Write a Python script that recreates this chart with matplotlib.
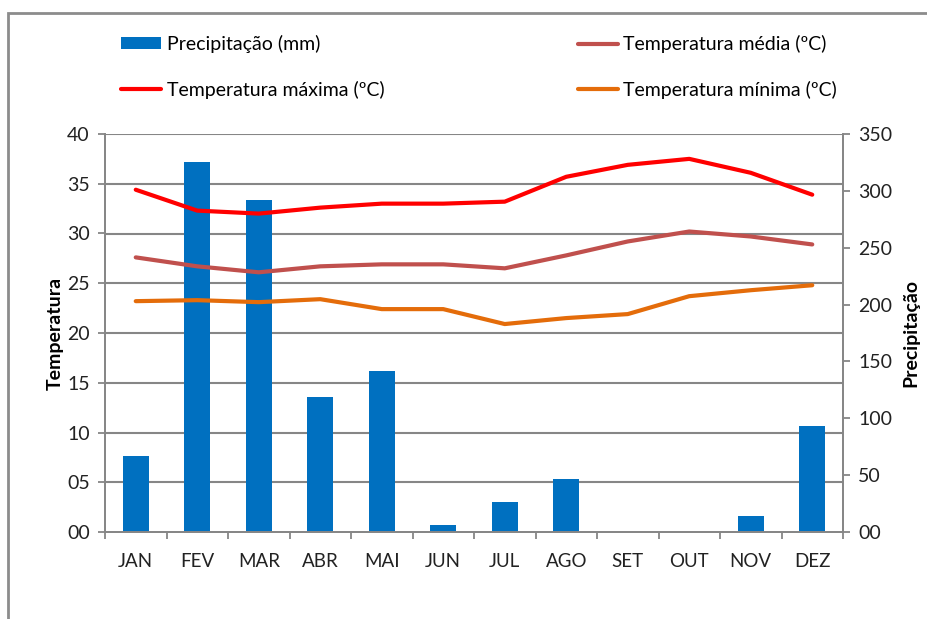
import numpy as np
import matplotlib
matplotlib.use("Agg")
import matplotlib.pyplot as plt
from matplotlib.patches import Rectangle
from matplotlib.ticker import FuncFormatter

plt.rcParams['font.family'] = ['Lato', 'DejaVu Sans']

# data
meses = ['JAN', 'FEV', 'MAR', 'ABR', 'MAI', 'JUN', 'JUL', 'AGO', 'SET', 'OUT', 'NOV', 'DEZ']
precip = [67, 325, 292, 119, 142, 6, 26, 47, 0, 0, 14, 93]
temp_max = [34.4, 32.3, 32.0, 32.6, 33.0, 33.0, 33.2, 35.7, 36.9, 37.5, 36.1, 33.9]
temp_med = [27.6, 26.7, 26.1, 26.7, 26.9, 26.9, 26.5, 27.8, 29.2, 30.2, 29.7, 28.9]
temp_min = [23.2, 23.3, 23.1, 23.4, 22.4, 22.4, 20.9, 21.5, 21.9, 23.7, 24.3, 24.8]

c_bar = '#0070c0'
c_max = '#ff0000'
c_med = '#c0504d'
c_min = '#e46c0a'
grid_c = '#868686'
txt_c = '#222222'

fig = plt.figure(figsize=(9.27, 6.19), dpi=100)
# outer chart frame (only top and left edges visible)
fig.patches.append(Rectangle((8/927, -0.1), 1.0, 1 - 13/619 + 0.1, transform=fig.transFigure,
                             fill=False, edgecolor='#8c8c8c', linewidth=2, zorder=0))

ax = fig.add_axes([105/927, 1 - 532/619, 738/927, 398/619])
ax2 = ax.twinx()
x = np.arange(len(meses))

# bars on the right axis, lines on the left axis
ax2.bar(x, precip, width=0.42, color=c_bar, zorder=2, label='Precipitação (mm)')
ax.set_zorder(ax2.get_zorder() + 1)
ax.patch.set_visible(False)
l1, = ax.plot(x, temp_max, color=c_max, lw=3, solid_capstyle='round', label='Temperatura máxima (ºC)')
l2, = ax.plot(x, temp_med, color=c_med, lw=3, solid_capstyle='round', label='Temperatura média (ºC)')
l3, = ax.plot(x, temp_min, color=c_min, lw=3, solid_capstyle='round', label='Temperatura mínima (ºC)')

ax.set_xlim(-0.5, 11.5)
ax.set_ylim(0, 40)
ax2.set_ylim(0, 350)
ax.set_yticks(np.arange(0, 41, 5))
ax2.set_yticks(np.arange(0, 351, 50))
ax.yaxis.set_major_formatter(FuncFormatter(lambda v, p: '%02d' % v))
ax2.yaxis.set_major_formatter(FuncFormatter(lambda v, p: '%02d' % v))
ax.set_xticks(x)
ax.set_xticklabels(meses)
ax.set_xticks(np.arange(-0.5, 12, 1), minor=True)

for y in np.arange(5, 41, 5):
    ax2.axhline(y * 350 / 40, color=grid_c, lw=1.5, zorder=1)

for a in (ax, ax2):
    a.spines['top'].set_visible(False)
    for s in ('left', 'right', 'bottom'):
        a.spines[s].set_color(grid_c)
        a.spines[s].set_linewidth(1.3)
    a.tick_params(axis='y', colors=grid_c, labelcolor=txt_c, labelsize=14, length=5, width=1.3, pad=6)
ax.tick_params(axis='x', which='major', length=0, labelsize=13.5, labelcolor=txt_c, pad=15)
ax.tick_params(axis='x', which='minor', length=5, width=1.3, color=grid_c)

ax.set_ylabel('Temperatura', fontsize=14, fontweight='bold', labelpad=2)
ax2.set_ylabel('Precipitação', fontsize=14, fontweight='bold', labelpad=7)

handles = [ax2.containers[0], l1, l2, l3]
labels = [h.get_label() for h in handles]
fig.legend(handles, labels, ncol=2, loc='upper left', bbox_to_anchor=(121/927, 1 - 35/619),
           frameon=False, fontsize=14, handlelength=2.05, handleheight=0.6, handletextpad=0.3,
           columnspacing=9.95, labelspacing=1.42, borderpad=0, borderaxespad=0)

fig.savefig('out.png', dpi=100)
